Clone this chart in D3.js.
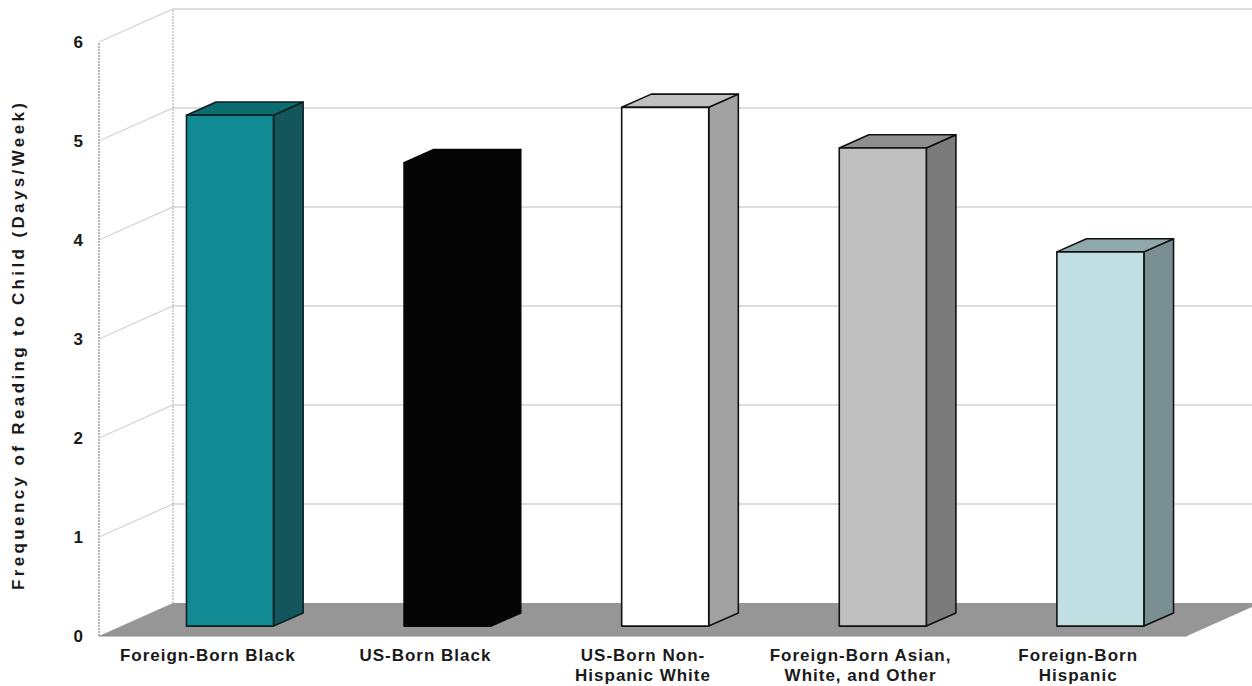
<!DOCTYPE html>
<html>
<head>
<meta charset="utf-8">
<script src="https://cdn.jsdelivr.net/npm/d3@7"></script>
<style>
html,body{margin:0;padding:0;background:#fff;}
svg{display:block;}
text{font-family:"Liberation Sans",Arial,sans-serif;font-weight:bold;fill:#1a1a1a;}
</style>
</head>
<body>
<svg id="chart" width="1252" height="686"></svg>
<script>
const categories = [
  ["Foreign-Born Black"],
  ["US-Born Black"],
  ["US-Born Non-", "Hispanic White"],
  ["Foreign-Born Asian,", "White, and Other"],
  ["Foreign-Born", "Hispanic"]
];
const values = [5.16, 4.68, 5.24, 4.83, 3.78];
const yTicks = [0, 1, 2, 3, 4, 5, 6];
const yTitle = "Frequency of Reading to Child (Days/Week)";
const frontColors = ["#118a93", "#050505", "#ffffff", "#c0c0c0", "#c0dfe3"];
const topColors   = ["#0b6c72", "#050505", "#c0c0c0", "#8f8f8f", "#8fa8ab"];
const sideColors  = ["#13575c", "#050505", "#a2a2a2", "#7b7b7b", "#7a8f92"];
const strokeColors= ["#0d1f20", "#050505", "#111111", "#111111", "#111111"];

const svg = d3.select("#chart");
const left = 99, right = 1187, base = 636, top6 = 42;
const DX = 74, DY = -33;
const ids = categories.map((c, i) => i);

const x = d3.scaleBand().domain(ids).range([left, right]).paddingInner(0.6).paddingOuter(0.3);
const xStep = d3.scaleBand().domain(ids).range([left, right]).padding(0);
const y = d3.scaleLinear().domain([0, 6]).range([base, top6]);

const P = (px, v, z) => [px + DX * z, y(v) + DY * z];
const poly = pts => "M" + pts.map(p => p.join(",")).join("L") + "Z";

// back wall
svg.append("path")
  .attr("d", poly([P(left,0,1), P(right+40,0,1), P(right+40,6,1), P(left,6,1)]))
  .attr("fill", "#ffffff");
// left wall
svg.append("path")
  .attr("d", poly([P(left,0,0), P(left,0,1), P(left,6,1), P(left,6,0)]))
  .attr("fill", "#ffffff");

// gridlines
yTicks.forEach(t => {
  if (t === 0) return;
  const a = P(left, t, 0), b = P(left, t, 1), c = P(right + 40, t, 1);
  svg.append("path").attr("d", `M${a}L${b}L${c}`)
    .attr("fill", "none").attr("stroke", "#d4d4d4").attr("stroke-width", 1.3);
});
// wall frame
svg.append("path")
  .attr("d", `M${P(left,0,0)}L${P(left,6,0)}`)
  .attr("stroke", "#a0a0a0").attr("stroke-width", 1.5).attr("stroke-dasharray", "2,1").attr("fill","none");
svg.append("path")
  .attr("d", `M${P(left,0,1)}L${P(left,6,1)}`)
  .attr("stroke", "#c4c4c4").attr("stroke-width", 1.5).attr("stroke-dasharray", "2,1").attr("fill","none");

// floor
svg.append("path")
  .attr("d", poly([P(left,0,0), P(right,0,0), P(right,0,1), P(left,0,1)]))
  .attr("fill", "#969696");
svg.append("path")
  .attr("d", `M${P(left,0,0)}L${P(right,0,0)}`)
  .attr("stroke", "#8a8a8a").attr("stroke-width", 1).attr("fill","none");

// bars
const z0 = 0.3, z1 = 0.7;
const bars = svg.append("g");
values.forEach((v, i) => {
  const x0 = x(i), x1 = x(i) + x.bandwidth();
  const g = bars.append("g")
    .attr("stroke", strokeColors[i]).attr("stroke-width", 1.6).attr("stroke-linejoin", "round");
  g.append("path").attr("d", poly([P(x1,0,z0), P(x1,0,z1), P(x1,v,z1), P(x1,v,z0)]))
    .attr("fill", sideColors[i]);
  g.append("path").attr("d", poly([P(x0,v,z0), P(x1,v,z0), P(x1,v,z1), P(x0,v,z1)]))
    .attr("fill", topColors[i]);
  g.append("path").attr("d", poly([P(x0,0,z0), P(x1,0,z0), P(x1,v,z0), P(x0,v,z0)]))
    .attr("fill", frontColors[i]);
});

// y tick labels
svg.append("g").selectAll("text").data(yTicks).join("text")
  .attr("x", 83).attr("y", d => y(d)).attr("dy", "0.36em")
  .attr("text-anchor", "end").attr("font-size", 17)
  .text(d => d);

// x labels
const xl = svg.append("g").selectAll("text").data(ids).join("text")
  .attr("x", d => xStep(d) + xStep.bandwidth() / 2)
  .attr("y", 661)
  .attr("text-anchor", "middle").attr("font-size", 17)
  .attr("letter-spacing", "1px");
xl.each(function(d) {
  const t = d3.select(this);
  categories[d].forEach((line, k) => {
    t.append("tspan").attr("x", xStep(d) + xStep.bandwidth() / 2)
      .attr("dy", k === 0 ? 0 : 20).text(line);
  });
});

// y title
svg.append("text")
  .attr("transform", `translate(24,${(103 + 590) / 2}) rotate(-90)`)
  .attr("text-anchor", "middle").attr("font-size", 17)
  .attr("textLength", 487).attr("lengthAdjust", "spacing")
  .text(yTitle);
</script>
</body>
</html>
